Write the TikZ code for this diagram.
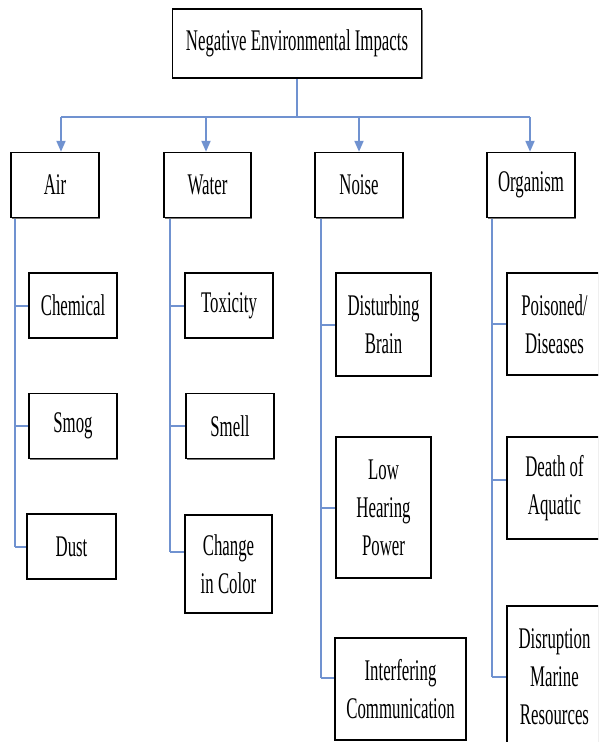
\documentclass[tikz,border=0pt]{standalone}
\usepackage{fontspec}
\setmainfont{Liberation Serif}[FakeStretch=0.56]
\usetikzlibrary{arrows.meta,shadows,backgrounds}
\definecolor{linkblue}{RGB}{112,146,208}
\newcommand\boxfont{\fontsize{30}{38}\selectfont}
\tikzset{
  box/.style={draw=black, line width=1.4pt, fill=white, inner sep=0pt, align=center,
    font=\boxfont, drop shadow={shadow xshift=1.3pt, shadow yshift=-1.3pt, fill=black!55, opacity=1}},
  link/.style={draw=linkblue, line width=2pt},
  arr/.style={link, -{Triangle[width=9pt,length=11pt]}}
}
\begin{document}
\begin{tikzpicture}[x=1pt,y=-1pt]
\useasboundingbox (0,0) rectangle (598,742);
\clip (0,0) rectangle (598,742);
% top
\node[box, minimum width=249pt, minimum height=69pt] (top) at (297,43.5) {Negative Environmental Impacts};
% level 1
\node[box, minimum width=88pt, minimum height=65pt] (air) at (55,185) {Air};
\node[box, minimum width=87pt, minimum height=65pt] (water) at (207.5,185) {Water};
\node[box, minimum width=88pt, minimum height=65pt] (noise) at (359,185) {Noise};
\node[box, minimum width=88pt, minimum height=65pt] (org) at (531,185) {Organism};
% air children
\node[box, minimum width=88pt, minimum height=65pt] (chem) at (73,305.5) {Chemical};
\node[box, minimum width=88pt, minimum height=65pt] (smog) at (73,426) {Smog};
\node[box, minimum width=89pt, minimum height=65pt] (dust) at (71.5,546.5) {Dust};
% water children
\node[box, minimum width=88pt, minimum height=65pt] (tox) at (229,305.5) {Toxicity};
\node[box, minimum width=88pt, minimum height=65pt] (smell) at (230,426) {Smell};
\node[box, minimum width=87pt, minimum height=98pt] (chg) at (228.5,564) {Change\\in Color};
% noise children
\node[box, minimum width=95pt, minimum height=103pt] (dist) at (383.5,324.5) {Disturbing\\Brain};
\node[box, minimum width=95pt, minimum height=141pt] (low) at (383.5,507.5) {Low\\Hearing\\Power};
\node[box, minimum width=131pt, minimum height=102pt] (intf) at (400.5,689) {Interfering\\Communication};
% organism children
\node[box, minimum width=95pt, minimum height=102pt] (pois) at (554.5,324) {Poisoned/\\Diseases};
\node[box, minimum width=95pt, minimum height=102pt] (death) at (554.5,488) {Death of\\Aquatic};
\node[box, minimum width=95pt, minimum height=142pt] (disr) at (554.5,677) {Disruption\\Marine\\Resources};
% connectors
\coordinate (bus) at (297,117);
\coordinate (bA) at (61,117);
\coordinate (bW) at (206,117);
\coordinate (bN) at (359,117);
\coordinate (bO) at (530,117);
\coordinate (aX) at (15,0);
\coordinate (wX) at (170,0);
\coordinate (nX) at (321,0);
\coordinate (oX) at (492,0);
\begin{scope}[on background layer]
\draw[link] (top.south) -- (bus);
\draw[link] (bA) -- (bO);
\draw[arr] (bA) -- (bA |- air.north);
\draw[arr] (bW) -- (bW |- water.north);
\draw[arr] (bN) -- (bN |- noise.north);
\draw[arr] (bO) -- (bO |- org.north);
% air branch
\draw[link] (air.south -| aX) -- (dust.west -| aX);
\draw[link] (chem.west -| aX) -- (chem.west);
\draw[link] (smog.west -| aX) -- (smog.west);
\draw[link] (dust.west -| aX) -- (dust.west);
% water branch
\draw[link] (water.south -| wX) -- ([yshift=12pt]chg.west -| wX);
\draw[link] (tox.west -| wX) -- (tox.west);
\draw[link] (smell.west -| wX) -- (smell.west);
\draw[link] ([yshift=12pt]chg.west -| wX) -- ([yshift=12pt]chg.west);
% noise branch
\draw[link] (noise.south -| nX) -- ([yshift=11pt]intf.west -| nX);
\draw[link] (dist.west -| nX) -- (dist.west);
\draw[link] (low.west -| nX) -- (low.west);
\draw[link] ([yshift=11pt]intf.west -| nX) -- ([yshift=11pt]intf.west);
% organism branch
\draw[link] (org.south -| oX) -- (disr.west -| oX);
\draw[link] (pois.west -| oX) -- (pois.west);
\draw[link] ([yshift=8pt]death.west -| oX) -- ([yshift=8pt]death.west);
\draw[link] (disr.west -| oX) -- (disr.west);
\end{scope}
\end{tikzpicture}
\end{document}
